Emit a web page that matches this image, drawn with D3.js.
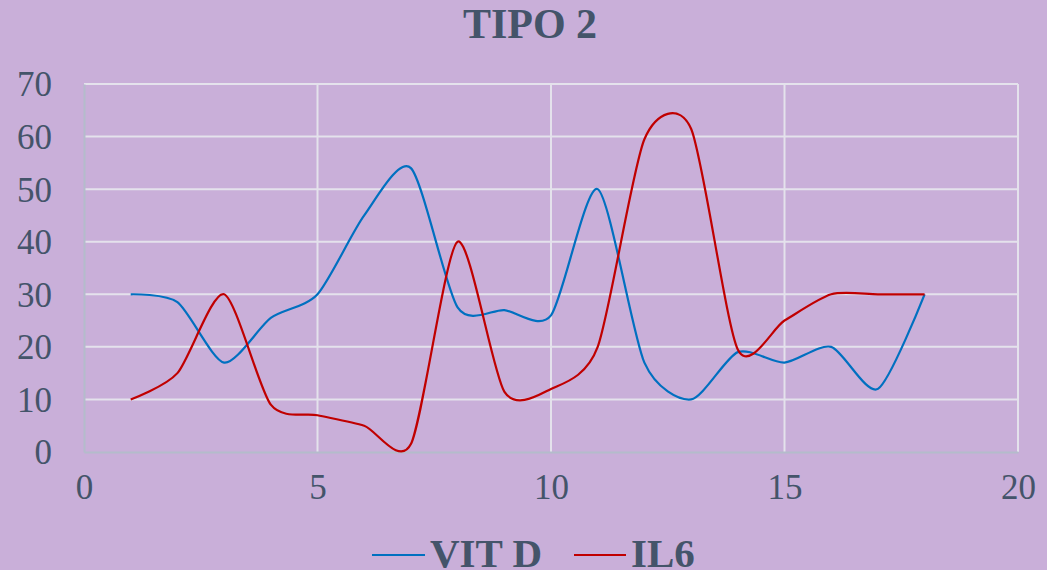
<!DOCTYPE html>
<html>
<head>
<meta charset="utf-8">
<script src="https://cdn.jsdelivr.net/npm/d3@7"></script>
<style>
  html, body { margin: 0; padding: 0; background: #C9AFD9; }
  svg { display: block; }
  text { font-family: "Liberation Serif", "Times New Roman", serif; fill: #44546A; }
</style>
</head>
<body>
<svg id="chart" width="1047" height="570"></svg>
<script>
// Measurements per sample, x = 1..18
const xValues   = [1, 2, 3, 4, 5, 6, 7, 8, 9, 10, 11, 12, 13, 14, 15, 16, 17, 18];
const vitD      = [30, 28.5, 17, 25.5, 30, 45, 54, 27.5, 27, 26, 50, 17, 10, 19, 17, 20, 12, 30];
const il6       = [10, 15, 30, 9, 7, 5, 1.5, 40, 11.5, 12, 20, 59.5, 61.5, 19.5, 25, 30, 30, 30];
const xTicks    = [0, 5, 10, 15, 20];
const yTicks    = [0, 10, 20, 30, 40, 50, 60, 70];
const seriesNames = ["VIT D", "IL6"];
const seriesColors = ["#0070C0", "#C00000"];

const svg = d3.select("#chart");
const plot = { left: 84, right: 1018, top: 84, bottom: 452 };

const x = d3.scaleLinear().domain([0, 20]).range([plot.left, plot.right]);
const y = d3.scaleLinear().domain([0, 70]).range([plot.bottom, plot.top]);

// Title
svg.append("text")
  .attr("x", 530).attr("y", 38)
  .attr("text-anchor", "middle")
  .style("font-size", "42px").style("font-weight", "bold")
  .text("TIPO 2");

// Horizontal gridlines
svg.append("g")
  .selectAll("line")
  .data(yTicks.filter(d => d > 0))
  .join("line")
  .attr("x1", plot.left).attr("x2", plot.right)
  .attr("y1", d => y(d)).attr("y2", d => y(d))
  .attr("stroke", "#E4E2EC").attr("stroke-width", 2);

// Vertical gridlines
svg.append("g")
  .selectAll("line")
  .data(xTicks.filter(d => d > 0))
  .join("line")
  .attr("x1", d => x(d)).attr("x2", d => x(d))
  .attr("y1", plot.top).attr("y2", plot.bottom)
  .attr("stroke", "#E4E2EC").attr("stroke-width", 2);

// Axes
const xAxis = svg.append("g")
  .attr("transform", `translate(0,${plot.bottom})`)
  .call(d3.axisBottom(x).tickValues(xTicks).tickSize(0).tickPadding(22));
const yAxis = svg.append("g")
  .attr("transform", `translate(${plot.left},0)`)
  .call(d3.axisLeft(y).tickValues(yTicks).tickSize(0).tickPadding(32));

[xAxis, yAxis].forEach(g => {
  g.select(".domain").attr("stroke", "#B4BCCB").attr("stroke-width", 2);
  g.selectAll("text")
    .style("font-size", "35px")
    .style("font-family", '"Liberation Serif", "Times New Roman", serif')
    .attr("fill", "#44546A");
});
xAxis.selectAll("text").attr("dy", "0.71em");
yAxis.selectAll("text").attr("dy", "0.34em");

// Smoothed series lines
const line = d3.line()
  .x(d => x(d[0]))
  .y(d => y(d[1]))
  .curve(d3.curveCardinal.tension(0.25));

[vitD, il6].forEach((vals, i) => {
  svg.append("path")
    .datum(xValues.map((xv, j) => [xv, vals[j]]))
    .attr("d", line)
    .attr("fill", "none")
    .attr("stroke", seriesColors[i])
    .attr("stroke-width", 2.2);
});

// Legend
const legendItems = [
  { name: seriesNames[0], color: seriesColors[0], x1: 372, x2: 425, tx: 430 },
  { name: seriesNames[1], color: seriesColors[1], x1: 574, x2: 626, tx: 631 }
];
const legend = svg.append("g");
legendItems.forEach(it => {
  legend.append("line")
    .attr("x1", it.x1).attr("x2", it.x2)
    .attr("y1", 555).attr("y2", 555)
    .attr("stroke", it.color).attr("stroke-width", 2.2);
  legend.append("text")
    .attr("x", it.tx).attr("y", 567)
    .style("font-size", "41px").style("font-weight", "bold")
    .text(it.name);
});
</script>
</body>
</html>
